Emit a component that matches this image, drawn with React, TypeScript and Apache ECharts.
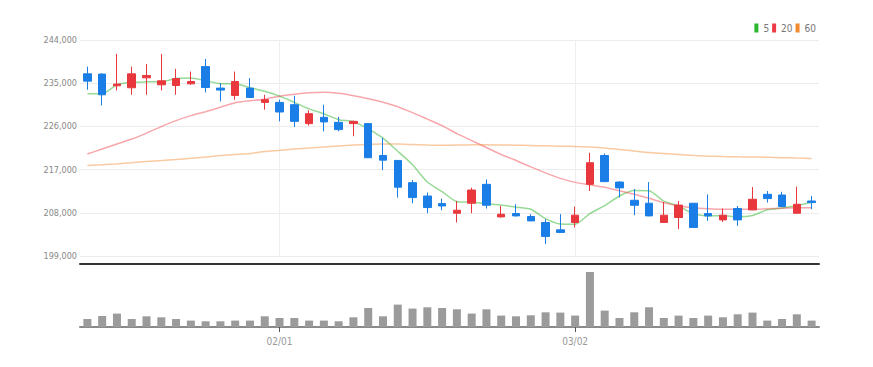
import React, { useEffect, useRef } from "react";
import * as echarts from "echarts";

const dates = [
  "01/13","01/14","01/15","01/18","01/19","01/20","01/21","01/22","01/25","01/26","01/27","01/28","01/29",
  "02/01","02/02","02/03","02/04","02/05","02/08","02/09","02/10","02/11","02/12","02/15","02/16","02/17","02/18","02/19","02/22","02/23","02/24","02/25","02/26",
  "03/02","03/03","03/04","03/05","03/08","03/09","03/10","03/11","03/12","03/15","03/16","03/17","03/18","03/19","03/22","03/23","03/24",
];
const monthTicks = ["02/01", "03/02"];

const opens = [236950,236900,234460,234050,236120,234670,234520,234870,238460,233980,232450,233980,231000,231000,230520,226580,227890,226850,226580,226580,219940,218910,214280,211500,209920,207910,209990,213930,207150,207850,207230,205980,204450,205980,213930,219940,214400,210610,209990,205980,207020,209990,207850,206520,208890,208600,211850,211710,207910,210460];
const closes = [235430,232590,234810,236950,236600,235500,235970,235350,234110,233570,235350,232030,231560,229000,227050,228650,226930,225330,227050,219470,218970,213330,211170,209100,209420,208540,212750,209570,207700,207350,206310,203080,203910,207500,218430,214490,213190,209570,207350,207500,209600,204950,207350,207500,206520,210820,210960,209300,209780,210130];
const lows = [233630,230370,233490,232590,232590,233490,232590,234670,233070,231200,231560,231910,229480,227060,225890,226160,224980,224980,223950,219400,216890,211170,209990,207910,208540,205980,207910,208890,207020,207230,206300,201480,203850,204950,212540,214450,211170,207500,207300,205950,204590,204900,206310,206100,205280,208550,210130,209250,207900,208740];
const highs = [238460,237090,241100,238460,239020,241100,237990,237430,240060,235020,237430,236060,232590,231560,232390,229340,230520,227970,227200,226700,223610,218950,214820,212210,210960,210460,213240,214960,209420,209780,207710,206670,207710,209300,220500,220360,214610,212980,214400,210260,210460,210000,211850,208890,209420,213370,212540,212370,213450,211500];

const ma5 = [232800,232800,234670,235200,235280,235290,235970,236070,235510,234900,234870,234080,233320,232300,231000,229660,228640,227390,227000,225490,223550,220830,218000,214410,212400,210310,210200,209880,209600,209180,208740,206800,205670,205630,207850,209480,211500,212640,212610,210420,209440,207790,207350,207380,207180,207430,208630,209020,209480,210200];
const ma20 = [220250,221290,222330,223360,224610,225960,227200,228240,229070,230000,230930,231350,231660,232280,232700,233010,233110,232900,232390,231760,231040,230100,228860,227510,226160,224500,223050,221600,220150,218900,217560,216310,215170,214340,213820,213300,212580,211850,211020,210090,209470,209050,208850,208740,208740,208740,208850,208950,209050,209050];
const ma60 = [217870,218010,218180,218430,218700,218900,219110,219360,219630,219940,220150,220360,220770,221020,221290,221500,221700,221910,222120,222260,222330,222330,222220,222120,222080,222120,222160,222160,222120,222080,222020,221950,221870,221810,221700,221500,221190,220880,220560,220360,220150,219940,219800,219730,219670,219630,219570,219490,219400,219320];

const volumes = [160000,220000,268000,160000,214000,194000,160000,128000,114000,114000,128000,128000,214000,180000,180000,128000,128000,114000,194000,380000,214000,448000,368000,394000,380000,354000,268000,354000,228000,214000,234000,294000,288000,228000,1100000,328000,180000,294000,394000,180000,228000,180000,228000,194000,254000,288000,128000,160000,254000,128000];

const yTicks = { min: 199000, max: 244000, step: 9000 };

const UP = "#e8383d";
const DOWN = "#1a7ee6";
const FONT = "'Liberation Sans Narrow', 'DejaVu Sans Condensed', 'Roboto', sans-serif";

const isMonthTick = (_i: number, v: string) => monthTicks.includes(v);

export default function App() {
  const ref = useRef<HTMLDivElement>(null);
  useEffect(() => {
    if (!ref.current) return;
    const chart = echarts.init(ref.current, null, { renderer: "svg" });
    const candleData = dates.map((_, i) => [opens[i], closes[i], lows[i], highs[i]]);
    chart.setOption({
      animation: false,
      backgroundColor: "#fff",
      legend: {
        data: ["5", "20", "60"],
        right: 52,
        top: 18,
        icon: "rect",
        itemWidth: 4,
        itemHeight: 9,
        itemGap: 3,
        textStyle: { color: "#777", fontSize: 10, fontFamily: FONT },
      },
      grid: [
        { left: 80, right: 54, top: 40, height: 216 },
        { left: 80, right: 54, top: 272, height: 55 },
      ],
      xAxis: [
        {
          type: "category",
          gridIndex: 0,
          data: dates,
          boundaryGap: true,
          offset: 8,
          axisLine: { show: true, lineStyle: { color: "#333", width: 2 } },
          axisTick: { show: false },
          axisLabel: { show: false },
          splitLine: { show: false },
        },
        {
          type: "category",
          gridIndex: 1,
          data: dates,
          boundaryGap: true,
          axisLine: { show: true, lineStyle: { color: "#8a8a8a", width: 2 } },
          axisTick: { show: true, interval: isMonthTick, length: 5, alignWithLabel: true, lineStyle: { color: "#555" } },
          axisLabel: { show: true, interval: isMonthTick, color: "#999", fontSize: 10, fontFamily: FONT, margin: 9 },
          splitLine: { show: false },
        },
      ],
      yAxis: [
        {
          type: "value",
          gridIndex: 0,
          min: yTicks.min,
          max: yTicks.max,
          interval: yTicks.step,
          axisLine: { show: false },
          axisTick: { show: false },
          axisLabel: {
            color: "#888",
            fontSize: 9,
            fontFamily: FONT,
            margin: 3,
            formatter: (v: number) => v.toLocaleString("en-US"),
          },
          splitLine: { show: true, lineStyle: { color: "#ececec" } },
        },
        {
          type: "value",
          gridIndex: 1,
          min: 0,
          max: "dataMax",
          show: false,
          splitLine: { show: false },
        },
      ],
      series: [
        {
          name: "candle",
          type: "candlestick",
          xAxisIndex: 0,
          yAxisIndex: 0,
          data: candleData,
          barWidth: 8,
          itemStyle: { color: UP, color0: DOWN, borderColor: UP, borderColor0: DOWN, borderWidth: 1 },
          z: 3,
        },
        {
          name: "5",
          type: "line",
          data: ma5,
          symbol: "none",
          smooth: 0.2,
          color: "#2db52d",
          lineStyle: { width: 1.5, opacity: 0.5 },
          z: 2,
        },
        {
          name: "20",
          type: "line",
          data: ma20,
          symbol: "none",
          smooth: 0.2,
          color: "#ee3b47",
          lineStyle: { width: 1.5, opacity: 0.45 },
          z: 2,
        },
        {
          name: "60",
          type: "line",
          data: ma60,
          symbol: "none",
          smooth: 0.2,
          color: "#f28a2e",
          lineStyle: { width: 1.5, opacity: 0.45 },
          z: 2,
        },
        {
          name: "monthLines",
          type: "line",
          data: [],
          symbol: "none",
          z: 1,
          silent: true,
          markLine: {
            silent: true,
            z: 1,
            symbol: ["none", "none"],
            label: { show: false },
            lineStyle: { color: "#eeeeee", type: "solid", width: 1 },
            data: monthTicks.map((m) => ({ xAxis: m })),
          },
        },
        {
          name: "volume",
          type: "bar",
          xAxisIndex: 1,
          yAxisIndex: 1,
          data: volumes,
          barWidth: 8,
          itemStyle: { color: "#9b9b9b" },
        },
      ],
    });
    return () => chart.dispose();
  }, []);
  return <div ref={ref} style={{ position: "fixed", left: 0, top: 0, width: 873, height: 367 }} />;
}
